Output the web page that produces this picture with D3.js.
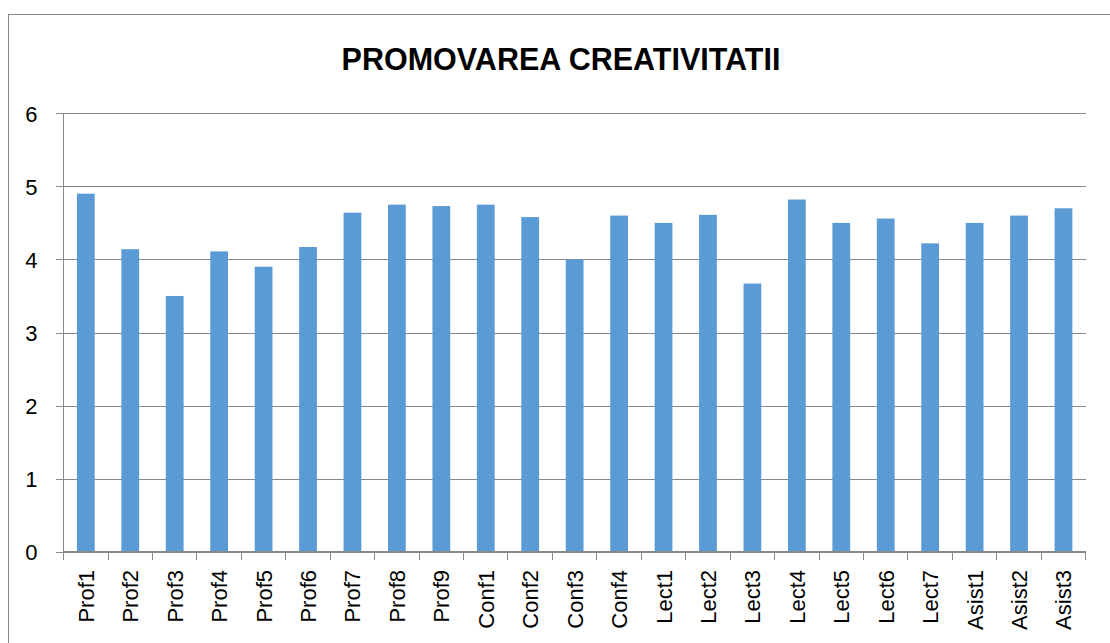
<!DOCTYPE html>
<html>
<head>
<meta charset="utf-8">
<script src="https://cdn.jsdelivr.net/npm/d3@7"></script>
<style>
  html, body { margin: 0; padding: 0; background: #fff; }
  svg { display: block; }
</style>
</head>
<body>
<svg id="chart" width="1110" height="643"></svg>
<script>
const title = "PROMOVAREA CREATIVITATII";
const categories = ["Prof1","Prof2","Prof3","Prof4","Prof5","Prof6","Prof7","Prof8","Prof9",
  "Conf1","Conf2","Conf3","Conf4","Lect1","Lect2","Lect3","Lect4","Lect5","Lect6","Lect7",
  "Asist1","Asist2","Asist3"];
const values = [4.9, 4.14, 3.5, 4.11, 3.9, 4.17, 4.64, 4.75, 4.73,
  4.75, 4.58, 4.0, 4.6, 4.5, 4.61, 3.67, 4.82, 4.5, 4.56, 4.22,
  4.5, 4.6, 4.7];
const yTicks = [0, 1, 2, 3, 4, 5, 6];

(function () {
const svg = d3.select("#chart");
const gridColor = "#898989";
const font = "'Liberation Sans', Arial, sans-serif";

// outer chart border
svg.append("rect")
  .attr("x", 8.5).attr("y", 14.5)
  .attr("width", 1120).attr("height", 660)
  .attr("fill", "none").attr("stroke", gridColor).attr("stroke-width", 1);

const pLeft = 63.6, pRight = 1085.7, pTop = 113.3, pBottom = 551.7;

const x = d3.scaleBand().domain(categories).range([pLeft, pRight])
  .paddingInner(0.6).paddingOuter(0.3);
const y = d3.scaleLinear().domain([0, 6]).range([pBottom, pTop]);

// gridlines with y ticks extending left
const yAxis = d3.axisLeft(y).tickValues(yTicks).tickSize(-(pRight - pLeft)).tickPadding(0).tickFormat(d3.format("d"));
const gy = svg.append("g").attr("transform", `translate(${pLeft},0)`).call(yAxis);
gy.select(".domain").remove();
gy.selectAll(".tick line").attr("stroke", gridColor).attr("x1", -8).attr("shape-rendering", "crispEdges");
gy.selectAll(".tick text")
  .attr("x", -26).attr("dy", "0.35em")
  .attr("font-family", font).attr("font-size", 22).attr("fill", "#000")
  .attr("text-anchor", "end");

// y axis line
svg.append("line")
  .attr("x1", pLeft).attr("x2", pLeft).attr("y1", pTop).attr("y2", pBottom)
  .attr("stroke", gridColor).attr("shape-rendering", "crispEdges");

// bars
svg.append("g").selectAll("rect").data(values).join("rect")
  .attr("x", (d, i) => x(categories[i]))
  .attr("width", x.bandwidth())
  .attr("y", d => y(d))
  .attr("height", d => y(0) - y(d))
  .attr("fill", "#5B9BD5");

// x axis line
svg.append("line")
  .attr("x1", pLeft).attr("x2", pRight).attr("y1", pBottom).attr("y2", pBottom)
  .attr("stroke", gridColor).attr("shape-rendering", "crispEdges");

// x tick marks at category boundaries
const bx = d3.range(categories.length + 1).map(i => pLeft + i * (pRight - pLeft) / categories.length);
svg.append("g").selectAll("line").data(bx).join("line")
  .attr("x1", d => d).attr("x2", d => d)
  .attr("y1", pBottom).attr("y2", pBottom + 8)
  .attr("stroke", gridColor).attr("shape-rendering", "crispEdges");

// x labels
svg.append("g").selectAll("text").data(categories).join("text")
  .attr("transform", d => `translate(${x(d) + x.bandwidth() / 2 + 8},570) rotate(-90)`)
  .attr("text-anchor", "end")
  .attr("font-family", font).attr("font-size", 22).attr("fill", "#000")
  .text(d => d);

// title
svg.append("text")
  .attr("x", 561).attr("y", 70)
  .attr("text-anchor", "middle")
  .attr("font-family", font).attr("font-weight", "bold").attr("font-size", 30.5)
  .attr("fill", "#000")
  .text(title);
})();
</script>
</body>
</html>
